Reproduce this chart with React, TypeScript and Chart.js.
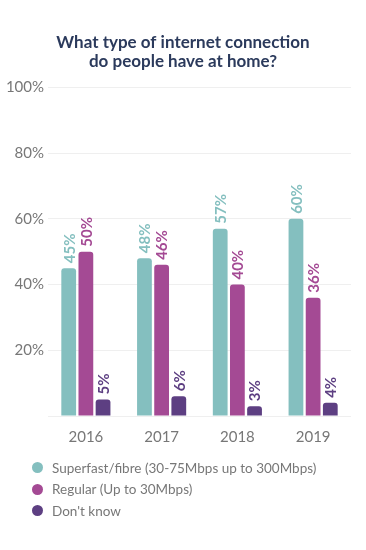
import React, { useEffect, useRef } from "react";
import { Chart, registerables } from "chart.js";

Chart.register(...registerables);

const years = ["2016", "2017", "2018", "2019"];
const superfast = [45, 48, 57, 60];
const regular = [50, 46, 40, 36];
const dontKnow = [5, 6, 3, 4];
const seriesNames = [
  "Superfast/fibre (30-75Mbps up to 300Mbps)",
  "Regular (Up to 30Mbps)",
  "Don't know",
];
const colors = ["#84bfbf", "#a44a94", "#5d3f82"];
const titleLines = ["What type of internet connection", "do people have at home?"];

const FONT = "Lato, 'Open Sans', sans-serif";

const valueLabels = {
  id: "valueLabels",
  afterDatasetsDraw(chart: any) {
    const ctx = chart.ctx;
    chart.data.datasets.forEach((ds: any, di: number) => {
      const meta = chart.getDatasetMeta(di);
      meta.data.forEach((bar: any, i: number) => {
        const v = ds.data[i];
        ctx.save();
        ctx.translate(bar.x, bar.y - 5);
        ctx.rotate(-Math.PI / 2);
        ctx.font = `bold 15px ${FONT}`;
        ctx.fillStyle = ds.backgroundColor;
        ctx.textAlign = "left";
        ctx.textBaseline = "middle";
        ctx.fillText(`${v}%`, 0, 1);
        ctx.restore();
      });
    });
  },
};

export default function App() {
  const ref = useRef<HTMLCanvasElement | null>(null);
  useEffect(() => {
    if (!ref.current) return;
    const data = [superfast, regular, dontKnow];
    const chart = new Chart(ref.current, {
      type: "bar",
      data: {
        labels: years,
        datasets: data.map((d, i) => ({
          label: seriesNames[i],
          data: d,
          backgroundColor: colors[i],
          borderWidth: 0,
          borderRadius: { topLeft: 3, topRight: 3, bottomLeft: 0, bottomRight: 0 },
          borderSkipped: "bottom",
          categoryPercentage: 0.68,
          barPercentage: 0.86,
        })),
      },
      options: {
        animation: false,
        responsive: false,
        maintainAspectRatio: false,
        layout: { padding: { left: 0, right: 0, top: 0, bottom: 100 } },
        plugins: {
          legend: { display: false },
          tooltip: { enabled: false },
          title: {
            display: true,
            text: titleLines,
            color: "#2b3a5c",
            font: { family: FONT, size: 17, weight: "bold", lineHeight: 1.1 },
            padding: { top: 33, bottom: 17 },
          },
        },
        scales: {
          x: {
            grid: { display: false },
            border: { display: false },
            ticks: {
              color: "#777",
              font: { family: FONT, size: 15 },
              padding: 4,
            },
          },
          y: {
            min: 0,
            max: 100,
            afterFit: (s: any) => {
              s.width = 48;
            },
            grid: { color: "#efefef", drawTicks: false, lineWidth: 1 },
            border: { display: false },
            ticks: {
              stepSize: 20,
              color: "#777",
              padding: 4,
              font: { family: FONT, size: 15 },
              callback: (v: any) => (v === 0 ? "" : `${v}%`),
            },
          },
          yRight: {
            position: "right",
            min: 0,
            max: 100,
            afterFit: (s: any) => {
              s.width = 15;
            },
            grid: { display: false },
            border: { display: false },
            ticks: { display: false },
          },
        },
      },
      plugins: [valueLabels],
    });
    return () => chart.destroy();
  }, []);

  return (
    <div
      style={{
        position: "fixed",
        left: 0,
        top: 0,
        width: 366,
        height: 550,
        background: "#fff",
      }}
    >
      <canvas ref={ref} width={366} height={550} style={{ display: "block" }} />
      <div style={{ position: "absolute", left: 32, top: 457, fontFamily: FONT }}>
        {seriesNames.map((n, i) => (
          <div
            key={n}
            style={{
              display: "flex",
              alignItems: "center",
              height: 21.5,
              fontSize: 13.5,
              color: "#777",
            }}
          >
            <span
              style={{
                display: "inline-block",
                width: 11,
                height: 11,
                borderRadius: "50%",
                background: colors[i],
                marginRight: 9,
              }}
            />
            {n}
          </div>
        ))}
      </div>
    </div>
  );
}
